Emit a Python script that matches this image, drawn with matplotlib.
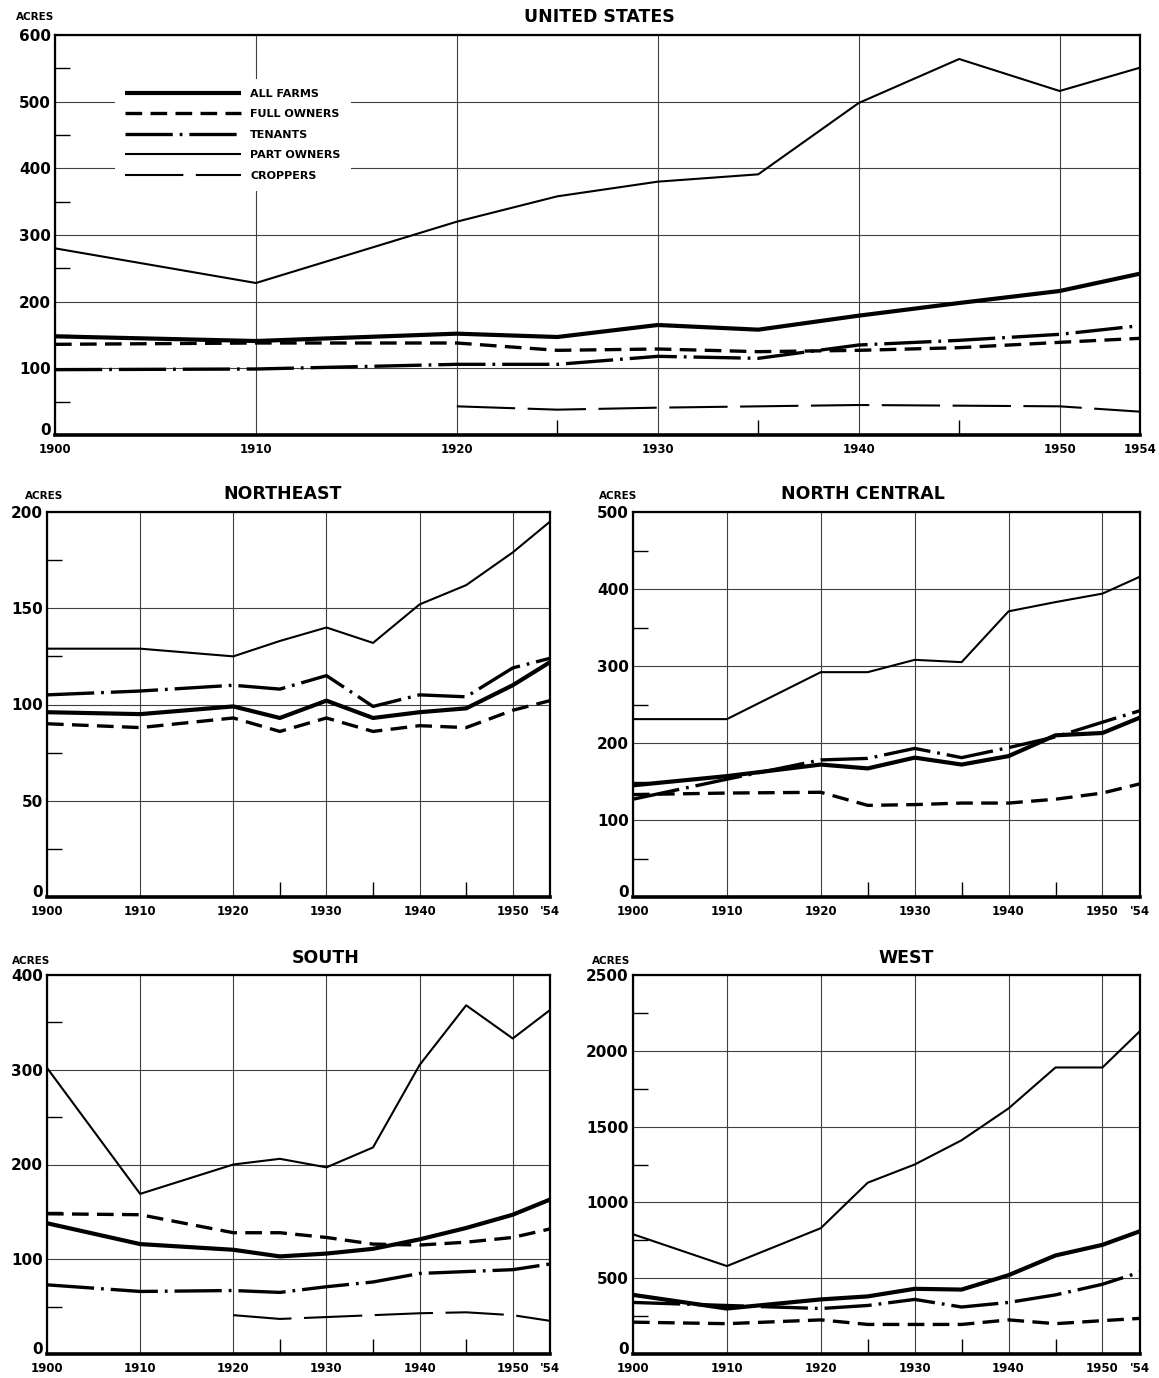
import matplotlib
matplotlib.use('Agg')
import matplotlib.pyplot as plt
from matplotlib.ticker import FixedLocator
from matplotlib.transforms import ScaledTranslation

plt.rcParams['font.family'] = ['DejaVu Sans']
plt.rcParams['lines.scale_dashes'] = False

# años del censo
anios = [1900, 1910, 1920, 1925, 1930, 1935, 1940, 1945, 1950, 1954]
aniosAparceros = [1920, 1925, 1930, 1935, 1940, 1945, 1950, 1954]

# estados unidos
usTodas = [148, 141, 152, 147, 165, 158, 179, 198, 216, 242]
usPropietarios = [136, 138, 138, 127, 129, 125, 127, 131, 139, 145]
usArrendatarios = [98, 99, 106, 106, 118, 115, 135, 142, 151, 164]
usParciales = [280, 228, 320, 358, 380, 391, 498, 564, 516, 551]
usAparceros = [43, 38, 41, 43, 45, 44, 43, 35]

# northeast
neTodas = [96, 95, 99, 93, 102, 93, 96, 98, 110, 122]
nePropietarios = [90, 88, 93, 86, 93, 86, 89, 88, 97, 102]
neArrendatarios = [105, 107, 110, 108, 115, 99, 105, 104, 119, 124]
neParciales = [129, 129, 125, 133, 140, 132, 152, 162, 179, 195]

# north central
ncTodas = [145, 157, 172, 167, 181, 172, 183, 210, 213, 233]
ncPropietarios = [133, 135, 136, 119, 120, 122, 122, 127, 135, 147]
ncArrendatarios = [127, 153, 178, 180, 193, 181, 194, 208, 227, 242]
ncParciales = [231, 231, 292, 292, 308, 305, 371, 383, 394, 416]

# south
suTodas = [138, 116, 110, 103, 106, 111, 121, 133, 147, 163]
suPropietarios = [148, 147, 128, 128, 123, 116, 115, 118, 123, 132]
suArrendatarios = [73, 66, 67, 65, 71, 76, 85, 87, 89, 95]
suParciales = [302, 169, 200, 206, 197, 218, 305, 368, 333, 363]
suAparceros = [41, 37, 39, 41, 43, 44, 41, 35]

# west
weTodas = [390, 300, 360, 380, 430, 425, 520, 650, 720, 810]
wePropietarios = [210, 200, 225, 195, 195, 195, 225, 200, 220, 235]
weArrendatarios = [340, 320, 300, 320, 360, 310, 340, 390, 460, 540]
weParciales = [790, 580, 830, 1130, 1250, 1410, 1620, 1890, 1890, 2130]

etiquetas = ['ALL FARMS', 'FULL OWNERS', 'TENANTS', 'PART OWNERS', 'CROPPERS']
estilos = [
    dict(color='k', lw=3.0, ls='-'),
    dict(color='k', lw=2.4, ls=(0, (12, 6))),
    dict(color='k', lw=2.4, ls=(0, (34, 5, 2, 5))),
    dict(color='k', lw=1.5, ls='-'),
    dict(color='k', lw=1.5, ls=(0, (42, 9))),
]

W, H = 1159, 1378
fig = plt.figure(figsize=(W / 100, H / 100), dpi=100)


def caja(izq, der, arriba, abajo):
    return [izq / W, 1 - abajo / H, (der - izq) / W, (abajo - arriba) / H]


def panel(pos, titulo, tx, series, ymax, paso, ultima, acresX, acresY):
    ax = fig.add_axes(caja(*pos))
    for i, s in enumerate(series):
        if s is None:
            continue
        x = aniosAparceros if i == 4 else anios
        ax.plot(x, s, label=etiquetas[i], solid_capstyle='butt',
                dash_capstyle='butt', **estilos[i])
    ax.set_xlim(1900, 1954)
    ax.set_ylim(0, ymax)
    ax.set_xticks([1900, 1910, 1920, 1930, 1940, 1950, 1954])
    ax.set_xticklabels(['1900', '1910', '1920', '1930', '1940', '1950', ultima])
    yt = list(range(0, ymax + 1, paso))
    ax.set_yticks(yt)
    ax.xaxis.set_minor_locator(FixedLocator([1925, 1935, 1945]))
    ax.yaxis.set_minor_locator(FixedLocator([v + paso / 2 for v in yt[:-1]]))
    ax.tick_params(which='major', length=0)
    ax.tick_params(axis='x', which='major', labelsize=8.5, pad=6)
    ax.tick_params(axis='y', which='major', labelsize=11, pad=3)
    ax.tick_params(which='minor', direction='in', length=11, width=1)
    for lab in ax.get_xticklabels() + ax.get_yticklabels():
        lab.set_fontweight('bold')
    # el cero un poco mas arriba para no chocar con 1900
    cero = ax.get_yticklabels()[0]
    cero.set_transform(cero.get_transform() + ScaledTranslation(0, 4 / 72, fig.dpi_scale_trans))
    ax.grid(True, which='major', color='0.25', lw=0.8)
    for sp in ax.spines.values():
        sp.set_linewidth(1.6)
    ax.spines['bottom'].set_linewidth(2.6)
    ax.text(tx, 1.046, titulo, transform=ax.transAxes, ha='center', va='center',
            fontsize=12.5, fontweight='bold')
    fig.text(acresX / W, 1 - acresY / H, 'ACRES', ha='center', va='center',
             fontsize=7.5, fontweight='bold')
    return ax


axUS = panel((55, 1140, 35, 435), 'UNITED STATES', 0.502,
             [usTodas, usPropietarios, usArrendatarios, usParciales, usAparceros],
             600, 100, '1954', 35, 17)
leyenda = axUS.legend(loc='upper left', bbox_to_anchor=(0.05, 0.905), fontsize=8,
                      handlelength=10.5, handletextpad=0.8, labelspacing=0.95,
                      borderpad=0.9, frameon=True, fancybox=False)
leyenda.get_frame().set_facecolor('white')
leyenda.get_frame().set_edgecolor('none')
leyenda.get_frame().set_alpha(1)
for t in leyenda.get_texts():
    t.set_fontweight('bold')

panel((47, 550, 512, 897), 'NORTHEAST', 0.469,
      [neTodas, nePropietarios, neArrendatarios, neParciales, None],
      200, 50, "'54", 44, 496)
panel((633, 1140, 512, 897), 'NORTH CENTRAL', 0.454,
      [ncTodas, ncPropietarios, ncArrendatarios, ncParciales, None],
      500, 100, "'54", 618, 496)
panel((47, 550, 975, 1354), 'SOUTH', 0.555,
      [suTodas, suPropietarios, suArrendatarios, suParciales, suAparceros],
      400, 100, "'54", 31, 961)
panel((633, 1140, 975, 1354), 'WEST', 0.538,
      [weTodas, wePropietarios, weArrendatarios, weParciales, None],
      2500, 500, "'54", 611, 961)

fig.savefig('out.png', dpi=100)
